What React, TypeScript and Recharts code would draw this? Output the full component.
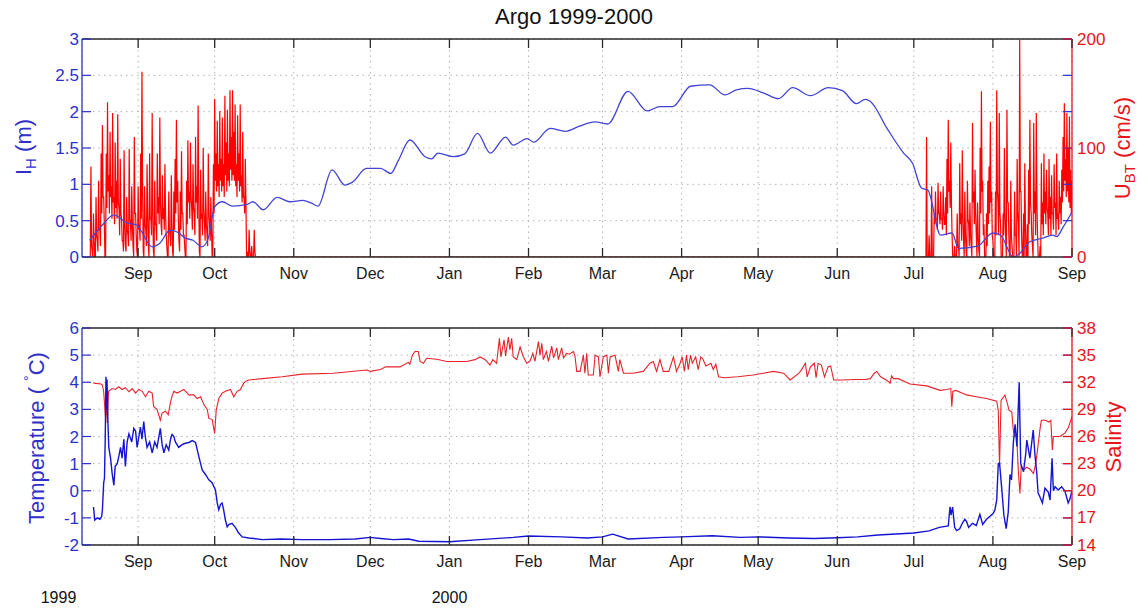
import React from 'react';
import { LineChart, Line, XAxis, YAxis, CartesianGrid, ReferenceLine } from 'recharts';

// ---- axes ----
const MONTH_TICKS = [0, 30, 61, 91, 122, 153, 182, 213, 243, 274, 304, 335, 366]; // days since 1999-09-01
const MONTH_LABELS = ['Sep', 'Oct', 'Nov', 'Dec', 'Jan', 'Feb', 'Mar', 'Apr', 'May', 'Jun', 'Jul', 'Aug', 'Sep'];
const X_DOMAIN: [number, number] = [-22, 366];
const IH_TICKS = [0, 0.5, 1, 1.5, 2, 2.5, 3];
const UBT_TICKS = [0, 100, 200];
const TEMP_TICKS = [-2, -1, 0, 1, 2, 3, 4, 5, 6];
const SAL_TICKS = [14, 17, 20, 23, 26, 29, 32, 35, 38];
const YEAR_LABELS = ['1999', '2000'];

// ---- I_H (m), blue, top panel: [day, value] ----
const IH: [number, number][] = [
  [-19, 0.23], [-14, 0.44], [-9.5, 0.58], [-4.5, 0.47], [-0.5, 0.44], [1, 0.37], [5.5, 0.14], [8.5, 0.19],
  [12.5, 0.37], [15.5, 0.34], [18.5, 0.26], [21.5, 0.23], [25, 0.14], [27.5, 0.26], [30, 0.69], [33, 0.76],
  [37, 0.7], [42.5, 0.72], [45, 0.76], [49, 0.65], [54.5, 0.82], [59.5, 0.76], [64.5, 0.78], [68, 0.74],
  [70.5, 0.7], [76, 1.2], [81, 0.99], [84, 1.03], [89.5, 1.22], [95, 1.22], [99, 1.15], [102, 1.33],
  [106.5, 1.61], [112.5, 1.38], [115, 1.35], [117.5, 1.43], [123.5, 1.38], [128, 1.42], [133, 1.7],
  [138, 1.43], [144, 1.65], [147, 1.54], [152.5, 1.63], [155, 1.58], [161.5, 1.77], [167.5, 1.73],
  [173, 1.8], [179, 1.86], [184, 1.83], [192, 2.28], [199.5, 2.01], [204.5, 2.07], [209.5, 2.07],
  [216.5, 2.35], [224, 2.37], [230, 2.23], [234.5, 2.3], [239, 2.32], [245, 2.26], [251, 2.18],
  [256.5, 2.33], [263.5, 2.22], [270.5, 2.33], [276, 2.29], [281.5, 2.11], [285, 2.17], [287, 2.14],
  [293.5, 1.77], [300, 1.43], [303.5, 1.29], [307, 0.95], [309.5, 0.92], [314.5, 0.3], [319, 0.33],
  [321.5, 0.12], [329, 0.15], [335, 0.33], [338, 0.3], [343, 0.0], [345.5, 0.05], [349.5, 0.21],
  [354.5, 0.26], [358.5, 0.3], [360, 0.28], [362.5, 0.41], [366, 0.62],
];

// ---- U_BT (cm/s), red, top panel: two bursts, upper/lower readings every half day ----
const UBT_STEP = 0.5;
const UBT_1_START = -19;
const UBT_1_HI = [
  0, 83, 5, 40, 0, 55, 15, 70, 25, 95, 121, 55, 0, 95, 142, 75, 115, 65, 132, 55, 105, 70, 131, 45, 90, 35,
  15, 98, 10, 55, 20, 99, 30, 65, 10, 110, 40, 5, 65, 30, 95, 170, 5, 65, 25, 85, 10, 95, 35, 132, 5, 70,
  30, 95, 55, 128, 30, 75, 45, 85, 20, 0, 60, 20, 75, 5, 60, 90, 126, 70, 15, 60, 97, 40, 20, 0, 70, 107,
  60, 105, 45, 85, 40, 110, 65, 139, 5, 80, 40, 100, 30, 60, 20, 95, 30, 55, 0, 85, 145, 95, 125, 85, 134,
  90, 128, 85, 148, 105, 135, 95, 153, 110, 153, 115, 140, 85, 130, 95, 140, 75, 115, 55, 90, 0, 5, 25, 0,
  10, 0, 25, 0,
];
const UBT_1_LO = [
  0, 10, 0, 15, 0, 20, 5, 25, 10,
  40, 55, 30, 0, 45, 60, 40, 55, 35, 50,
  30, 45, 35, 50, 20, 40, 15, 5,
  30, 5, 25, 10, 35, 15,
  30, 0, 40, 20, 0, 25, 15, 35,
  60, 0, 30, 10, 40, 0, 35, 20, 45, 0, 30, 15, 40, 30,
  50, 20, 35, 25, 40, 10, 0, 25,
  10, 30, 0, 25, 40, 50,
  35, 5, 25, 40, 20, 10, 0, 30,
  50, 35, 55, 25, 45, 20, 50, 35, 60, 0,
  35, 20, 45, 15, 30, 10, 40, 15, 25, 0,
  40, 70, 60, 65, 55, 70, 60, 65, 55, 75, 60, 70, 65, 80, 70, 75, 70, 65, 55, 70, 60, 65, 50, 55, 40, 50,
  0, 0, 5, 0, 0, 0, 5, 0,
];
const UBT_2_START = 308;
const UBT_2_HI = [
  0, 0, 110, 0, 20, 0, 65, 0, 40, 60, 35, 68, 40, 60, 35, 65, 30, 55, 90, 126, 70, 105, 20, 0, 10, 0, 40,
  10, 86, 40, 98, 15, 60, 5, 70, 30, 50, 10, 123, 60, 80, 20, 50, 5, 100, 152, 70, 30, 0, 40, 70, 83, 124,
  60, 15, 0, 60, 153, 50, 132, 30, 0, 40, 100, 20, 135, 50, 0, 70, 10, 0, 60, 20, 90, 30, 199, 60, 0, 40,
  86, 0, 30, 80, 126, 40, 10, 123, 60, 132, 20, 0, 10, 86, 50, 95, 60, 80, 40, 90, 55, 75, 40, 85, 50, 95,
  40, 70, 55, 80, 110, 141, 90, 132, 100, 129, 80, 70,
];
const UBT_2_LO = [
  0, 0, 0, 0, 0, 0, 0,
  0, 30, 35, 25, 40, 30, 35, 25, 40, 30, 20,
  40, 60, 45, 50, 0, 0, 0, 0,
  10, 0, 30, 15, 40, 0, 20, 0, 35, 10, 20, 0,
  50, 30, 40, 0, 20, 0, 40, 60, 20, 0,
  0, 10, 30, 40, 50, 20, 0, 0, 20,
  60, 20, 40, 0, 0, 20, 40, 0, 50, 20, 0,
  20, 0, 0, 20, 0, 40, 0, 60, 20, 0,
  0, 30, 0, 0, 30, 50, 20, 0, 40, 20, 50, 0, 0,
  0, 30, 20, 40, 30, 45, 20, 35, 20, 40, 25, 45, 20, 35, 25, 40, 30, 50, 60, 70, 55, 60, 50, 45, 40, 50,
];

// ---- Temperature (°C), blue, bottom panel ----
const TEMP: [number, number][] = [
  [-17.5, -0.6], [-17, -1.08], [-16, -1.0], [-15, -1.05], [-14.3, -0.95], [-14, -0.7], [-13.5, 0.3],
  [-13.2, 0.45], [-12.9, 1.9], [-12.6, 4.2], [-12.4, 3.0], [-12.2, 4.1], [-11.8, 2.4], [-11.5, 1.6],
  [-10.8, 1.2], [-10.2, 0.65], [-9.5, 0.2], [-9, 0.9], [-8.2, 1.0], [-7.5, 1.3], [-6.9, 1.6], [-6.3, 1.2],
  [-5.6, 1.9], [-5, 0.9], [-4.3, 1.8], [-3.6, 2.1], [-2.5, 1.8], [-1.7, 2.3], [-1, 2.2], [-0.4, 1.6],
  [0.3, 2.0], [0.9, 2.35], [1.5, 1.9], [2.2, 2.55], [2.8, 2.0], [3.5, 1.6], [4.5, 1.8], [5.5, 1.4],
  [6.5, 1.8], [7.4, 1.6], [8.7, 2.3], [9.4, 1.7], [10.1, 1.4], [11, 1.7], [12, 1.5], [12.7, 1.9],
  [13.3, 2.08], [14, 2.0], [14.6, 1.8], [15.9, 1.6], [17.2, 1.7], [18.5, 1.75], [19.9, 1.78], [21.2, 1.85],
  [22.5, 1.78], [23.8, 1.26], [25.1, 0.77], [26.4, 0.6], [27.7, 0.4], [29, 0.3], [30.3, 0.03], [31, -0.45],
  [31.6, -0.7], [32.3, -0.5], [32.9, -0.45], [33.5, -0.7], [34.2, -1.08], [34.9, -1.33], [35.5, -1.25],
  [36.8, -1.2], [38.1, -1.35], [39.4, -1.56], [40.8, -1.7], [43.4, -1.74], [48.6, -1.8], [56, -1.78],
  [64.3, -1.8], [75, -1.8], [85, -1.78], [91, -1.72], [95, -1.76], [100, -1.8], [106, -1.78], [110, -1.86],
  [122, -1.88], [134, -1.8], [147, -1.72], [153, -1.67], [166, -1.7], [176, -1.74], [182, -1.7],
  [186, -1.6], [192, -1.78], [206, -1.72], [213, -1.7], [225, -1.66], [236, -1.72], [243, -1.7],
  [255, -1.74], [265, -1.76], [274, -1.73], [282, -1.7], [290, -1.63], [304, -1.56], [310, -1.48],
  [314, -1.35], [317.5, -1.3], [318.2, -0.59], [318.6, -0.9], [319.2, -0.6], [320, -1.35], [320.8, -1.47],
  [322, -1.4], [323, -1.2], [324, -1.05], [324.7, -1.14], [325.5, -1.35], [327, -1.2], [328.5, -1.28],
  [329.9, -0.87], [331, -1.24], [332.5, -1.05], [334, -0.93], [335.2, -0.82], [335.8, -0.7], [336.5, -0.34],
  [337.1, 1.0], [337.6, 1.02], [338.4, 0.15], [339.3, -0.9], [340.2, -1.4], [341, -0.8], [341.7, 0.6],
  [342.3, 0.4], [343, 1.76], [343.7, 2.45], [344.4, 1.63], [345.3, 4.0], [345.9, 1.0], [347, 0.7],
  [347.9, 1.39], [348.3, 1.87], [349.5, 1.2], [350.8, 2.24], [351.5, 1.3], [352.2, 0.65], [352.7, -0.08],
  [353.4, -0.22], [354.4, -0.45], [355.4, 0.1], [356.7, -0.05], [357.4, -0.34], [358.2, 1.2], [358.7, 0.0],
  [359.4, 0.15], [360.6, 0.03], [361.9, 0.15], [363.2, 0.0], [364.5, -0.45], [365.2, -0.3], [366, 0.0],
];

// ---- Salinity, red, bottom panel ----
const SAL: [number, number][] = [
  [-17.5, 31.9], [-14.5, 31.8], [-14, 31.7], [-13.5, 30.95], [-12.8, 28.2], [-12.5, 29.5], [-12.1, 27.5],
  [-11.6, 31.0], [-10.2, 31.3], [-8.9, 31.2], [-7.6, 31.5], [-6.3, 31.2], [-5, 31.4], [-3.6, 30.95],
  [-2.3, 31.3], [-1, 30.8], [0.3, 31.2], [1.6, 31.0], [2.9, 30.4], [4.2, 31.0], [5.5, 30.8], [6.1, 29.3],
  [7.4, 29.0], [8.7, 27.8], [9.4, 28.6], [10.7, 28.8], [11.8, 28.4], [12.7, 29.8], [13.3, 30.5], [14, 31.0],
  [15.3, 30.8], [16.6, 31.0], [17.9, 31.2], [19.9, 30.6], [21.8, 30.6], [23.1, 30.2], [24.5, 30.4],
  [25.8, 29.5], [27.1, 29.0], [27.7, 28.0], [29, 27.9], [30, 26.35], [30.6, 28.9], [31.6, 30.2],
  [32.9, 30.8], [34.2, 31.0], [36.2, 31.2], [37.5, 30.4], [38.8, 31.0], [40.1, 31.2], [41.4, 31.9],
  [42.1, 32.1], [43.4, 32.25], [48.6, 32.4], [56.5, 32.6], [64.3, 32.9], [76.5, 33.0], [89.6, 33.35],
  [91, 33.2], [95, 33.4], [97, 33.7], [102.7, 33.7], [104, 33.9], [105.9, 34.2], [106.5, 34.0],
  [107.5, 35.0], [108.5, 35.4], [109.8, 35.4], [110.5, 34.3], [111.8, 34.1], [113.1, 34.65], [117, 34.55],
  [121, 34.3], [128.8, 34.3], [132, 34.5], [134, 34.8], [136, 34.5], [137.9, 33.9], [139, 34.5],
  [140.5, 34.1], [141.6, 36.85], [142.2, 34.8], [143.4, 36.7], [144, 34.9], [145.1, 37.0], [145.7, 35.6],
  [146.4, 36.85], [147, 34.8], [148.4, 34.5], [149.7, 35.9], [151, 34.8], [152.3, 34.1], [153.5, 34.3],
  [154.7, 35.2], [155.5, 34.3], [156.9, 36.5], [157.5, 35.0], [158.2, 36.3], [158.8, 34.5], [160, 35.4],
  [160.8, 34.3], [162.1, 36.0], [162.8, 34.7], [164.1, 35.8], [164.7, 34.5], [166, 35.8], [166.7, 34.7],
  [167.9, 35.2], [169, 35.1], [170.6, 35.4], [171.2, 34.9], [171.9, 33.2], [173.2, 33.2], [174.5, 35.0],
  [175.1, 33.0], [175.8, 35.2], [176.4, 32.8], [178.4, 32.8], [179.1, 35.0], [180.4, 34.8], [181, 32.6],
  [182.3, 34.8], [183.7, 35.0], [184.3, 33.0], [185, 34.8], [186.9, 35.0], [188.2, 33.2], [188.8, 34.5],
  [190.2, 33.0], [194, 33.0], [198, 33.2], [200.6, 34.1], [201.9, 34.3], [203.2, 33.2], [204.5, 34.5],
  [205.8, 33.2], [208, 33.2], [209.8, 34.8], [211, 33.2], [212.4, 34.1], [213.2, 34.8], [214.1, 33.2],
  [214.9, 35.0], [215.6, 33.4], [216.5, 35.0], [217.2, 34.1], [218.5, 34.8], [219.5, 33.4], [220.5, 34.8],
  [221.3, 34.6], [222.5, 33.8], [224.5, 34.1], [225.4, 33.4], [226.4, 34.0], [227.5, 32.6], [229.7, 32.5],
  [235, 32.6], [241, 32.8], [245, 33.0], [249, 33.2], [253, 33.0], [255.5, 32.25], [259, 33.0], [260, 33.4],
  [261.5, 34.1], [262.2, 32.6], [263.5, 33.7], [265, 34.1], [265.7, 32.5], [266.5, 34.1], [267.8, 33.9],
  [269, 32.6], [270.4, 33.7], [271.4, 33.8], [272.6, 32.25], [276, 32.25], [281, 32.3], [285, 32.3],
  [287, 32.4], [288.5, 33.0], [289.5, 33.2], [291, 32.6], [293.5, 32.2], [294.7, 31.9], [295.3, 32.7],
  [296, 32.4], [297.9, 32.4], [302.5, 31.8], [309.1, 31.6], [314.3, 31.1], [317, 31.2], [318.5, 31.3],
  [318.9, 29.3], [319.3, 31.0], [320.5, 31.1], [324.7, 30.6], [328.5, 30.4], [332.5, 30.2], [336.5, 29.9],
  [337.1, 28.9], [337.6, 22.7], [338.2, 30.0], [339.7, 30.6], [340.8, 29.5], [341.3, 28.9], [342.4, 28.7],
  [343, 26.7], [343.6, 26.0], [344.3, 26.2], [345, 22.0], [345.6, 19.7], [346.1, 22.7], [347, 22.3],
  [348.2, 22.6], [349.5, 22.4], [350.9, 21.9], [351.8, 23.0], [352.7, 25.0], [353.4, 26.7], [354, 27.8],
  [355.5, 27.8], [357, 27.6], [357.7, 27.8], [358.3, 24.5], [358.7, 26.0], [359.3, 26.0], [361.3, 26.0],
  [363.3, 26.4], [364.6, 27.0], [366, 28.2],
];

// ---- build library data ----
const burst = (start: number, hi: number[], lo: number[]) =>
  hi.flatMap((h, i) => [
    { d: start + i * UBT_STEP, v: h },
    { d: start + i * UBT_STEP + UBT_STEP / 2, v: lo[i] ?? 0 },
  ]);
const ihData = IH.map(([d, v]) => ({ d, v }));
const ubtData = [
  ...burst(UBT_1_START, UBT_1_HI, UBT_1_LO),
  { d: UBT_2_START - UBT_STEP, v: 0 },
  ...burst(UBT_2_START, UBT_2_HI, UBT_2_LO),
];
const tempData = TEMP.map(([d, v]) => ({ d, v }));
const salData = SAL.map(([d, v]) => ({ d, v }));

// ---- style / layout ----
const FONT = "'Liberation Sans', Arial, Helvetica, sans-serif";
const W = 1148;
const LEFT_W = 82;
const RIGHT_W = 76;
const PLOT_R = W - RIGHT_W;
const TICK = 9;
const DARK = '#2a2a2a';
const AX_BLUE = '#3030c8';
const AX_RED = '#e8141c';
const IH_BLUE = '#4444d4';
const T_BLUE = '#1414d2';
const U_RED = '#ff0000';
const S_RED = '#e6222a';

const fmt = (v: number) => String(v);

const makeXTick = (plotTop: number) => (props: any) => {
  const { x, y, payload } = props;
  const i = MONTH_TICKS.indexOf(payload.value);
  return (
    <g>
      <line x1={x} x2={x} y1={y} y2={y - TICK} stroke={DARK} strokeWidth={1.3} />
      <line x1={x} x2={x} y1={plotTop} y2={plotTop + TICK} stroke={DARK} strokeWidth={1.3} />
      <text x={x} y={y + 21.5} textAnchor="middle" fontSize={16} fill="#1a1a1a" fontFamily={FONT}>
        {MONTH_LABELS[i]}
      </text>
    </g>
  );
};

const leftTick = (props: any) => {
  const { x, y, payload } = props;
  return (
    <g>
      <line x1={x} x2={x + TICK} y1={y} y2={y} stroke={AX_BLUE} strokeWidth={1.2} />
      <line x1={PLOT_R} x2={PLOT_R - TICK} y1={y} y2={y} stroke={AX_BLUE} strokeWidth={1.2} />
      <text x={x - 3} y={y + 6} textAnchor="end" fontSize={17} fill={AX_BLUE} fontFamily={FONT}>
        {fmt(payload.value)}
      </text>
    </g>
  );
};

const rightTick = (props: any) => {
  const { x, y, payload } = props;
  return (
    <g>
      <line x1={x} x2={x - TICK} y1={y} y2={y} stroke={AX_RED} strokeWidth={1.2} />
      <text x={x + 5} y={y + 5.5} textAnchor="start" fontSize={17} fill={AX_RED} fontFamily={FONT}>
        {fmt(payload.value)}
      </text>
    </g>
  );
};

const TOP_H = 300;
const TOP_MARGIN = 39;
const BOT_H = 309;
const BOT_MARGIN = 28;

export default function App() {
  return (
    <div style={{ position: 'absolute', left: 0, top: 0, width: W, height: 609, background: '#fff', fontFamily: FONT }}>
      <div style={{ position: 'absolute', left: 0, top: 0 }}>
        <LineChart width={W} height={TOP_H} margin={{ top: TOP_MARGIN, right: 0, bottom: 0, left: 0 }}>
          <CartesianGrid yAxisId="l" xAxisId="x" stroke="#b4b4b4" strokeDasharray="1.5 4" />
          <XAxis xAxisId="x" type="number" dataKey="d" domain={X_DOMAIN} ticks={MONTH_TICKS} interval={0}
            allowDataOverflow height={TOP_H - TOP_MARGIN - 218} tickSize={0} tickMargin={0}
            tick={makeXTick(TOP_MARGIN)} axisLine={{ stroke: DARK, strokeWidth: 1.3 }} tickLine={false} />
          <YAxis yAxisId="l" orientation="left" domain={[0, 3]} ticks={IH_TICKS} interval={0} width={LEFT_W}
            allowDataOverflow tickSize={0} tickMargin={0} tick={leftTick} tickLine={false}
            axisLine={{ stroke: AX_BLUE, strokeWidth: 1.3 }} />
          <YAxis yAxisId="r" orientation="right" domain={[0, 200]} ticks={UBT_TICKS} interval={0} width={RIGHT_W}
            allowDataOverflow tickSize={0} tickMargin={0} tick={rightTick} tickLine={false}
            axisLine={{ stroke: AX_RED, strokeWidth: 1.3 }} />
          <ReferenceLine xAxisId="x" yAxisId="l" y={3} stroke={DARK} strokeWidth={1.3} />
          <Line xAxisId="x" yAxisId="r" data={ubtData} dataKey="v" type="linear" stroke={U_RED} strokeWidth={1.2}
            dot={false} isAnimationActive={false} />
          <Line xAxisId="x" yAxisId="l" data={ihData} dataKey="v" type="monotone" stroke={IH_BLUE} strokeWidth={1.3}
            dot={false} isAnimationActive={false} />
        </LineChart>
      </div>
      <div style={{ position: 'absolute', left: 0, top: TOP_H }}>
        <LineChart width={W} height={BOT_H} margin={{ top: BOT_MARGIN, right: 0, bottom: 0, left: 0 }}>
          <CartesianGrid yAxisId="l" xAxisId="x" stroke="#b4b4b4" strokeDasharray="1.5 4" />
          <XAxis xAxisId="x" type="number" dataKey="d" domain={X_DOMAIN} ticks={MONTH_TICKS} interval={0}
            allowDataOverflow height={BOT_H - BOT_MARGIN - 217} tickSize={0} tickMargin={0}
            tick={makeXTick(BOT_MARGIN)} axisLine={{ stroke: DARK, strokeWidth: 1.3 }} tickLine={false} />
          <YAxis yAxisId="l" orientation="left" domain={[-2, 6]} ticks={TEMP_TICKS} interval={0} width={LEFT_W}
            allowDataOverflow tickSize={0} tickMargin={0} tick={leftTick} tickLine={false}
            axisLine={{ stroke: AX_BLUE, strokeWidth: 1.3 }} />
          <YAxis yAxisId="r" orientation="right" domain={[14, 38]} ticks={SAL_TICKS} interval={0} width={RIGHT_W}
            allowDataOverflow tickSize={0} tickMargin={0} tick={rightTick} tickLine={false}
            axisLine={{ stroke: AX_RED, strokeWidth: 1.3 }} />
          <ReferenceLine xAxisId="x" yAxisId="l" y={6} stroke={DARK} strokeWidth={1.3} />
          <Line xAxisId="x" yAxisId="r" data={salData} dataKey="v" type="linear" stroke={S_RED} strokeWidth={1.1}
            dot={false} isAnimationActive={false} />
          <Line xAxisId="x" yAxisId="l" data={tempData} dataKey="v" type="linear" stroke={T_BLUE} strokeWidth={1.4}
            dot={false} isAnimationActive={false} />
        </LineChart>
      </div>
      <svg width={W} height={609} style={{ position: 'absolute', left: 0, top: 0, pointerEvents: 'none' }}
        fontFamily={FONT}>
        <text x={574} y={24} textAnchor="middle" fontSize={22} fill="#111">Argo 1999-2000</text>
        <text transform="translate(31,147) rotate(-90)" textAnchor="middle" fontSize={22} fill={AX_BLUE}>
          I<tspan fontSize={15} dy={5}>H</tspan><tspan dy={-5}> (m)</tspan>
        </text>
        <text transform="translate(1130,148) rotate(-90)" textAnchor="middle" fontSize={22} fill={AX_RED}>
          U<tspan fontSize={15} dy={5}>BT</tspan><tspan dy={-5}> (cm/s)</tspan>
        </text>
        <text transform="translate(44,438) rotate(-90)" textAnchor="middle" fontSize={22} fill={AX_BLUE}>
          Temperature ( <tspan fontSize={14} dy={-10}>°</tspan><tspan dy={10}>C)</tspan>
        </text>
        <text transform="translate(1121,437) rotate(-90)" textAnchor="middle" fontSize={22} fill={AX_RED}>
          Salinity
        </text>
        <text x={58.5} y={603} textAnchor="middle" fontSize={16} fill="#111">{YEAR_LABELS[0]}</text>
        <text x={449.5} y={603} textAnchor="middle" fontSize={16} fill="#111">{YEAR_LABELS[1]}</text>
      </svg>
    </div>
  );
}
